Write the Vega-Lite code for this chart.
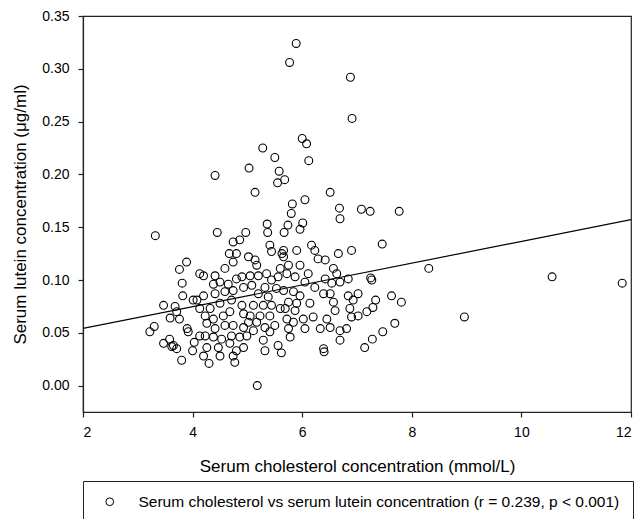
{
  "$schema": "https://vega.github.io/schema/vega-lite/v6.json",
  "width": 548,
  "height": 396,
  "autosize": "none",
  "padding": {"left": 83, "top": 16, "right": 10, "bottom": 107},
  "background": "white",
  "datasets": {
    "points": [
      {"chol": 5.89, "lutein": 0.324}, {"chol": 5.77, "lutein": 0.306}, {"chol": 6.88, "lutein": 0.292}, {"chol": 6.91, "lutein": 0.253},
      {"chol": 6.00, "lutein": 0.234}, {"chol": 6.08, "lutein": 0.229}, {"chol": 5.28, "lutein": 0.225}, {"chol": 5.50, "lutein": 0.216},
      {"chol": 6.12, "lutein": 0.213}, {"chol": 5.03, "lutein": 0.206}, {"chol": 5.58, "lutein": 0.203}, {"chol": 4.41, "lutein": 0.199},
      {"chol": 5.68, "lutein": 0.195}, {"chol": 5.55, "lutein": 0.192}, {"chol": 5.14, "lutein": 0.183}, {"chol": 6.51, "lutein": 0.183},
      {"chol": 6.05, "lutein": 0.176}, {"chol": 5.82, "lutein": 0.172}, {"chol": 6.68, "lutein": 0.168}, {"chol": 7.08, "lutein": 0.167},
      {"chol": 7.24, "lutein": 0.165}, {"chol": 7.77, "lutein": 0.165}, {"chol": 5.80, "lutein": 0.163}, {"chol": 6.69, "lutein": 0.158},
      {"chol": 5.36, "lutein": 0.153}, {"chol": 5.74, "lutein": 0.152}, {"chol": 6.01, "lutein": 0.154}, {"chol": 4.45, "lutein": 0.145},
      {"chol": 4.97, "lutein": 0.145}, {"chol": 5.96, "lutein": 0.148}, {"chol": 3.32, "lutein": 0.142}, {"chol": 5.37, "lutein": 0.145},
      {"chol": 5.67, "lutein": 0.145}, {"chol": 4.74, "lutein": 0.136}, {"chol": 4.86, "lutein": 0.138}, {"chol": 5.41, "lutein": 0.133},
      {"chol": 6.40, "lutein": 0.032}, {"chol": 7.14, "lutein": 0.036}, {"chol": 5.62, "lutein": 0.031}, {"chol": 5.18, "lutein": 0.000},
      {"chol": 7.46, "lutein": 0.134}, {"chol": 8.31, "lutein": 0.111}, {"chol": 7.25, "lutein": 0.102}, {"chol": 7.27, "lutein": 0.100},
      {"chol": 7.34, "lutein": 0.081}, {"chol": 7.29, "lutein": 0.074}, {"chol": 7.63, "lutein": 0.085}, {"chol": 7.81, "lutein": 0.079},
      {"chol": 7.69, "lutein": 0.059}, {"chol": 7.47, "lutein": 0.051}, {"chol": 7.28, "lutein": 0.044}, {"chol": 8.96, "lutein": 0.065},
      {"chol": 10.56, "lutein": 0.103}, {"chol": 11.84, "lutein": 0.097},
      {"chol": 3.89, "lutein": 0.117}, {"chol": 3.76, "lutein": 0.110}, {"chol": 3.81, "lutein": 0.097}, {"chol": 3.82, "lutein": 0.085},
      {"chol": 3.47, "lutein": 0.076}, {"chol": 3.68, "lutein": 0.075}, {"chol": 3.71, "lutein": 0.070}, {"chol": 3.59, "lutein": 0.064},
      {"chol": 3.76, "lutein": 0.063}, {"chol": 3.30, "lutein": 0.056}, {"chol": 3.22, "lutein": 0.051}, {"chol": 3.90, "lutein": 0.054},
      {"chol": 3.92, "lutein": 0.051}, {"chol": 3.47, "lutein": 0.040}, {"chol": 3.58, "lutein": 0.044}, {"chol": 3.65, "lutein": 0.038},
      {"chol": 3.71, "lutein": 0.035}, {"chol": 3.62, "lutein": 0.037}, {"chol": 3.80, "lutein": 0.024}, {"chol": 4.00, "lutein": 0.033},
      {"chol": 4.03, "lutein": 0.041}, {"chol": 4.13, "lutein": 0.047}, {"chol": 4.30, "lutein": 0.021}, {"chol": 4.77, "lutein": 0.022},
      {"chol": 4.13, "lutein": 0.106}, {"chol": 4.01, "lutein": 0.081}, {"chol": 4.08, "lutein": 0.081}, {"chol": 4.13, "lutein": 0.073},
      {"chol": 4.67, "lutein": 0.125}, {"chol": 4.80, "lutein": 0.125}, {"chol": 4.74, "lutein": 0.117}, {"chol": 5.02, "lutein": 0.122},
      {"chol": 5.14, "lutein": 0.119}, {"chol": 5.17, "lutein": 0.114}, {"chol": 5.44, "lutein": 0.127}, {"chol": 5.63, "lutein": 0.125},
      {"chol": 5.60, "lutein": 0.111}, {"chol": 5.20, "lutein": 0.104}, {"chol": 5.35, "lutein": 0.106}, {"chol": 5.44, "lutein": 0.100},
      {"chol": 5.56, "lutein": 0.103}, {"chol": 4.59, "lutein": 0.111}, {"chol": 4.41, "lutein": 0.104}, {"chol": 4.20, "lutein": 0.104},
      {"chol": 4.38, "lutein": 0.096}, {"chol": 4.50, "lutein": 0.098}, {"chol": 4.65, "lutein": 0.096}, {"chol": 4.80, "lutein": 0.101},
      {"chol": 4.90, "lutein": 0.103}, {"chol": 4.93, "lutein": 0.093}, {"chol": 5.05, "lutein": 0.104}, {"chol": 5.08, "lutein": 0.095},
      {"chol": 5.20, "lutein": 0.087}, {"chol": 5.32, "lutein": 0.093}, {"chol": 5.53, "lutein": 0.092}, {"chol": 5.38, "lutein": 0.084},
      {"chol": 4.20, "lutein": 0.085}, {"chol": 4.41, "lutein": 0.087}, {"chol": 4.59, "lutein": 0.089}, {"chol": 4.74, "lutein": 0.090},
      {"chol": 4.71, "lutein": 0.081}, {"chol": 4.50, "lutein": 0.078}, {"chol": 4.32, "lutein": 0.073}, {"chol": 4.23, "lutein": 0.066},
      {"chol": 4.38, "lutein": 0.063}, {"chol": 4.56, "lutein": 0.066}, {"chol": 4.68, "lutein": 0.070}, {"chol": 4.90, "lutein": 0.076},
      {"chol": 5.11, "lutein": 0.076}, {"chol": 5.29, "lutein": 0.076}, {"chol": 5.44, "lutein": 0.076}, {"chol": 5.60, "lutein": 0.073},
      {"chol": 4.93, "lutein": 0.068}, {"chol": 5.05, "lutein": 0.066}, {"chol": 5.23, "lutein": 0.066}, {"chol": 5.41, "lutein": 0.066},
      {"chol": 4.26, "lutein": 0.059}, {"chol": 4.41, "lutein": 0.054}, {"chol": 4.59, "lutein": 0.057}, {"chol": 4.74, "lutein": 0.057},
      {"chol": 4.93, "lutein": 0.055}, {"chol": 5.02, "lutein": 0.060}, {"chol": 5.17, "lutein": 0.060}, {"chol": 5.32, "lutein": 0.055},
      {"chol": 5.50, "lutein": 0.057}, {"chol": 4.23, "lutein": 0.047}, {"chol": 4.38, "lutein": 0.046}, {"chol": 4.53, "lutein": 0.044},
      {"chol": 4.71, "lutein": 0.047}, {"chol": 4.86, "lutein": 0.046}, {"chol": 4.99, "lutein": 0.047}, {"chol": 5.11, "lutein": 0.052},
      {"chol": 5.41, "lutein": 0.051}, {"chol": 4.26, "lutein": 0.036}, {"chol": 4.47, "lutein": 0.036}, {"chol": 4.68, "lutein": 0.040},
      {"chol": 4.80, "lutein": 0.033}, {"chol": 4.93, "lutein": 0.036}, {"chol": 5.29, "lutein": 0.043}, {"chol": 5.32, "lutein": 0.033},
      {"chol": 5.56, "lutein": 0.038}, {"chol": 4.20, "lutein": 0.028}, {"chol": 4.50, "lutein": 0.028}, {"chol": 4.74, "lutein": 0.028},
      {"chol": 5.66, "lutein": 0.128}, {"chol": 5.66, "lutein": 0.122}, {"chol": 5.90, "lutein": 0.128}, {"chol": 6.17, "lutein": 0.133},
      {"chol": 6.23, "lutein": 0.128}, {"chol": 6.29, "lutein": 0.120}, {"chol": 6.42, "lutein": 0.119}, {"chol": 6.66, "lutein": 0.125},
      {"chol": 6.90, "lutein": 0.128}, {"chol": 5.75, "lutein": 0.114}, {"chol": 5.96, "lutein": 0.114}, {"chol": 5.72, "lutein": 0.106},
      {"chol": 5.87, "lutein": 0.103}, {"chol": 6.11, "lutein": 0.106}, {"chol": 6.05, "lutein": 0.098}, {"chol": 6.23, "lutein": 0.093},
      {"chol": 6.42, "lutein": 0.101}, {"chol": 6.57, "lutein": 0.111}, {"chol": 6.63, "lutein": 0.106}, {"chol": 6.54, "lutein": 0.097},
      {"chol": 6.69, "lutein": 0.098}, {"chol": 6.84, "lutein": 0.101}, {"chol": 5.66, "lutein": 0.090}, {"chol": 5.84, "lutein": 0.089},
      {"chol": 5.96, "lutein": 0.085}, {"chol": 6.14, "lutein": 0.078}, {"chol": 5.75, "lutein": 0.079}, {"chol": 5.90, "lutein": 0.078},
      {"chol": 6.39, "lutein": 0.087}, {"chol": 6.51, "lutein": 0.087}, {"chol": 6.57, "lutein": 0.079}, {"chol": 6.60, "lutein": 0.071},
      {"chol": 6.84, "lutein": 0.085}, {"chol": 7.02, "lutein": 0.087}, {"chol": 6.93, "lutein": 0.081}, {"chol": 6.87, "lutein": 0.073},
      {"chol": 7.18, "lutein": 0.070}, {"chol": 7.02, "lutein": 0.066}, {"chol": 5.69, "lutein": 0.073}, {"chol": 5.87, "lutein": 0.071},
      {"chol": 5.72, "lutein": 0.063}, {"chol": 6.02, "lutein": 0.063}, {"chol": 5.84, "lutein": 0.060}, {"chol": 6.20, "lutein": 0.065},
      {"chol": 6.45, "lutein": 0.063}, {"chol": 6.51, "lutein": 0.055}, {"chol": 6.69, "lutein": 0.052}, {"chol": 6.81, "lutein": 0.054},
      {"chol": 6.90, "lutein": 0.065}, {"chol": 5.75, "lutein": 0.054}, {"chol": 5.78, "lutein": 0.046}, {"chol": 6.05, "lutein": 0.054},
      {"chol": 6.33, "lutein": 0.054}, {"chol": 6.69, "lutein": 0.043}, {"chol": 6.39, "lutein": 0.035}
    ],
    "fit": [
      {"chol": 2, "lutein": 0.0541},
      {"chol": 12, "lutein": 0.1572}
    ]
  },
  "layer": [
    {
      "data": {"name": "fit"},
      "mark": {"type": "line", "color": "black", "strokeWidth": 1.2, "clip": true},
      "encoding": {
        "x": {"field": "chol", "type": "quantitative"},
        "y": {"field": "lutein", "type": "quantitative"}
      }
    },
    {
      "data": {"name": "points"},
      "mark": {"type": "point", "shape": "circle", "filled": false, "stroke": "black", "strokeWidth": 1.1, "size": 62, "opacity": 1},
      "encoding": {
        "x": {
          "field": "chol",
          "type": "quantitative",
          "scale": {"domain": [2, 12], "nice": false, "zero": false},
          "axis": {"title": "Serum cholesterol concentration (mmol/L)", "values": [2, 4, 6, 8, 10, 12], "format": "d", "labelPadding": 8, "titlePadding": 19}
        },
        "y": {
          "field": "lutein",
          "type": "quantitative",
          "scale": {"domain": [-0.025, 0.35], "nice": false, "zero": false},
          "axis": {"title": "Serum lutein concentration (μg/ml)", "values": [0, 0.05, 0.1, 0.15, 0.2, 0.25, 0.3, 0.35], "format": ".2f", "labelPadding": 9, "titlePadding": 12}
        },
        "shape": {
          "datum": "Serum cholesterol vs serum lutein concentration (r = 0.239, p < 0.001)",
          "scale": {"range": ["circle"]},
          "legend": {
            "title": null,
            "orient": "none",
            "legendX": 0,
            "legendY": 465,
            "padding": 13,
            "strokeColor": "#222",
            "symbolOffset": 6,
            "symbolSize": 60,
            "symbolStrokeColor": "black",
            "symbolFillColor": "transparent",
            "symbolStrokeWidth": 1,
            "labelOffset": 21,
            "labelFontSize": 15.5,
            "labelLimit": 0
          }
        }
      }
    }
  ],
  "config": {
    "font": "Liberation Sans",
    "view": {"stroke": "#222", "strokeWidth": 1.2},
    "axis": {
      "grid": false,
      "labelFont": "Liberation Sans",
      "labelFontSize": 14,
      "labelColor": "black",
      "titleFont": "Liberation Sans",
      "titleFontSize": 17,
      "titleFontWeight": "normal",
      "titleColor": "black",
      "domainColor": "#222",
      "domainWidth": 1.2,
      "tickColor": "#222",
      "tickWidth": 1.2,
      "tickSize": 5
    },
    "legend": {
      "labelFont": "Liberation Sans",
      "labelColor": "black"
    }
  }
}
